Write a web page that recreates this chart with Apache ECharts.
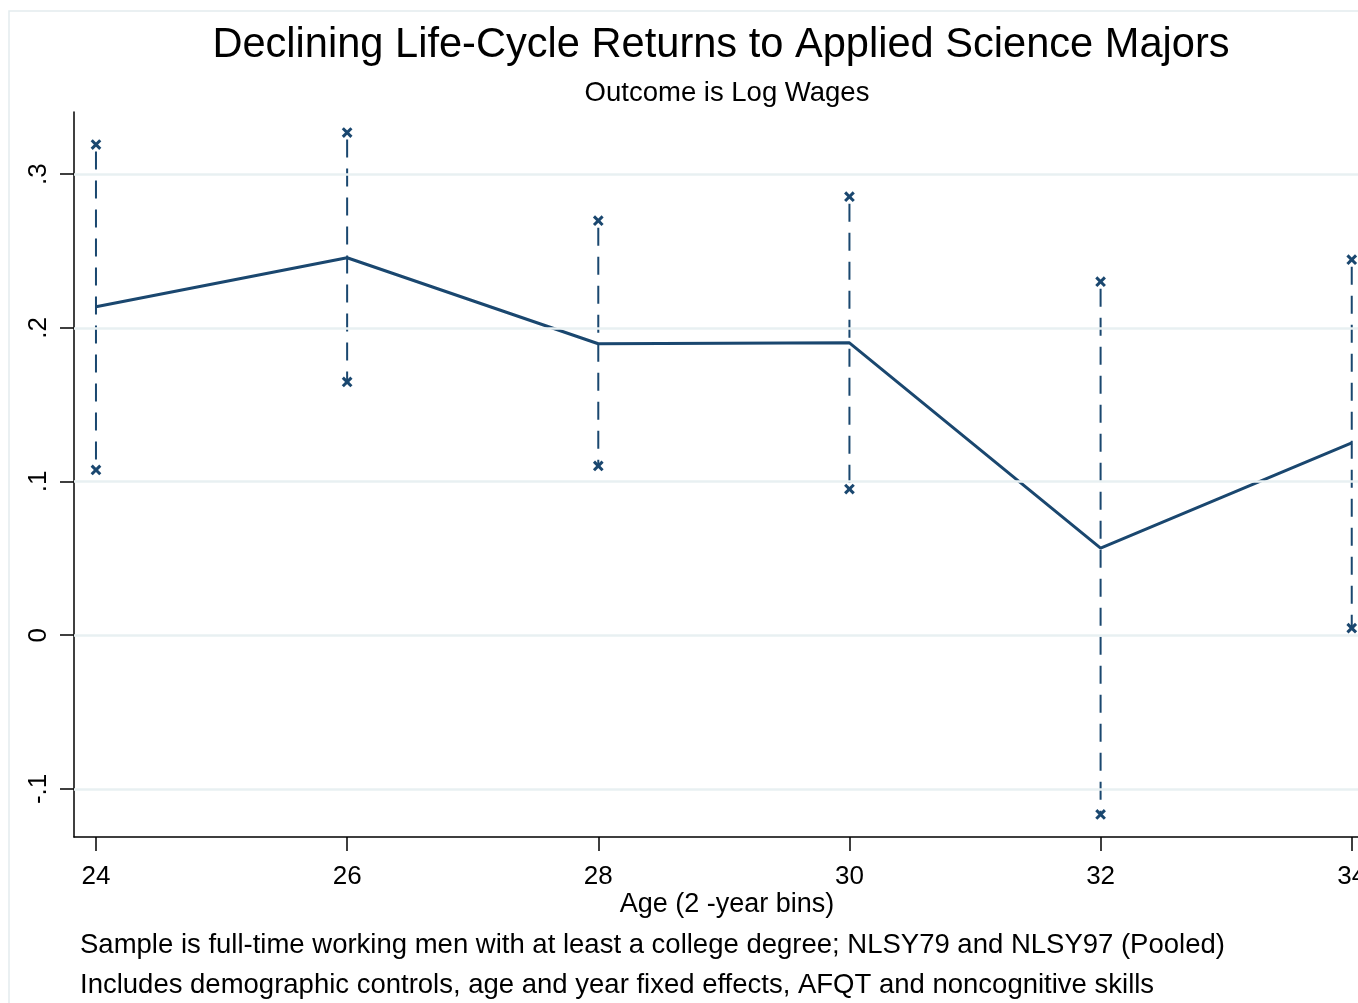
<!DOCTYPE html>
<html>
<head>
<meta charset="utf-8">
<script src="https://cdn.jsdelivr.net/npm/echarts@6/dist/echarts.min.js"></script>
<style>
html,body{margin:0;padding:0;background:#fff;}
#chart{width:1358px;height:1003px;}
</style>
</head>
<body>
<div id="chart"></div>
<script>
const ages = [24, 26, 28, 30, 32, 34];
const coef = [0.2137, 0.2456, 0.1896, 0.1902, 0.0567, 0.1251];
const upper = [0.3192, 0.3270, 0.2697, 0.2853, 0.2300, 0.2443];
const lower = [0.1075, 0.1648, 0.1101, 0.0951, -0.1166, 0.0046];
const xTicks = [24, 26, 28, 30, 32, 34];
const yTicks = [-0.1, 0, 0.1, 0.2, 0.3];
const yTickLabels = ['-.1', '0', '.1', '.2', '.3'];

const titleText = 'Declining Life-Cycle Returns to Applied Science Majors';
const subtitleText = 'Outcome is Log Wages';
const xName = 'Age (2 -year bins)';
const notes = [
  'Sample is full-time working men with at least a college degree; NLSY79 and NLSY97 (Pooled)',
  'Includes demographic controls, age and year fixed effects, AFQT and noncognitive skills'
];

const NAVY = '#1a476f';
const FONT = '"Liberation Sans", Arial, Helvetica, sans-serif';

const chart = echarts.init(document.getElementById('chart'), null, {renderer: 'canvas'});

const option = {
  backgroundColor: '#ffffff',
  animation: false,
  textStyle: {fontFamily: FONT},
  grid: {left: 74, top: 112, width: 1306, height: 725, containLabel: false, outerBoundsMode: 'none'},
  xAxis: {
    type: 'value',
    min: 23.825,
    max: 34.225,
    axisLine: {show: true, onZero: false, lineStyle: {color: '#000', width: 1.5}},
    axisTick: {show: true, length: 14, customValues: xTicks, lineStyle: {color: '#000', width: 1.5}},
    axisLabel: {customValues: xTicks, fontSize: 26, color: '#000', margin: 27, fontFamily: FONT},
    splitLine: {show: false}
  },
  yAxis: {
    type: 'value',
    min: -0.1313,
    max: 0.3404,
    axisLine: {show: true, onZero: false, lineStyle: {color: '#000', width: 1.5}},
    axisTick: {show: true, length: 14, customValues: yTicks, lineStyle: {color: '#000', width: 1.5}},
    axisLabel: {
      customValues: yTicks, rotate: 90, fontSize: 26, color: '#000', margin: 22, fontFamily: FONT,
      formatter: function (v) {
        const i = yTicks.findIndex(t => Math.abs(t - v) < 1e-9);
        return i >= 0 ? yTickLabels[i] : '';
      }
    },
    splitLine: {show: false}
  },
  graphic: [
    {type: 'rect', shape: {x: 9, y: 11, width: 1500, height: 1100}, style: {fill: 'none', stroke: '#e3ecee', lineWidth: 1.5}, z: -10, silent: true},
    {type: 'text', x: 721, y: 46, style: {text: titleText, fontSize: 41.6, fontFamily: FONT, fill: '#000', textAlign: 'center', textVerticalAlign: 'middle'}},
    {type: 'text', x: 727, y: 93, style: {text: subtitleText, fontSize: 27.5, fontFamily: FONT, fill: '#000', textAlign: 'center', textVerticalAlign: 'middle'}},
    {type: 'text', x: 727, y: 905, style: {text: xName, fontSize: 27, fontFamily: FONT, fill: '#000', textAlign: 'center', textVerticalAlign: 'middle'}},
    {type: 'text', x: 80, y: 945, style: {text: notes[0], fontSize: 27.5, fontFamily: FONT, fill: '#000', textAlign: 'left', textVerticalAlign: 'middle'}},
    {type: 'text', x: 80, y: 985, style: {text: notes[1], fontSize: 27.5, fontFamily: FONT, fill: '#000', textAlign: 'left', textVerticalAlign: 'middle'}}
  ],
  series: [
    {
      name: 'grid',
      type: 'line',
      data: [],
      z: 1,
      silent: true,
      markLine: {
        silent: true,
        symbol: ['none', 'none'],
        label: {show: false},
        lineStyle: {color: '#e8f0f2', width: 2.5, type: 'solid'},
        data: yTicks.map(v => ({yAxis: v}))
      }
    },
    {
      name: 'ci',
      type: 'custom',
      z: 2,
      data: ages.map((a, i) => [a, lower[i], upper[i]]),
      encode: {x: 0, y: [1, 2]},
      renderItem: function (params, api) {
        const x = api.value(0), lo = api.value(1), hi = api.value(2);
        const pLo = api.coord([x, lo]);
        const pHi = api.coord([x, hi]);
        const s = 4.3;
        const cross = p => [
          {type: 'line', shape: {x1: p[0] - s, y1: p[1] - s, x2: p[0] + s, y2: p[1] + s}, style: {stroke: NAVY, lineWidth: 3}},
          {type: 'line', shape: {x1: p[0] - s, y1: p[1] + s, x2: p[0] + s, y2: p[1] - s}, style: {stroke: NAVY, lineWidth: 3}}
        ];
        return {
          type: 'group',
          children: [
            {type: 'line', shape: {x1: pHi[0], y1: pHi[1] + 7, x2: pLo[0], y2: pLo[1]}, style: {stroke: NAVY, lineWidth: 2, lineDash: [18, 11]}}
          ].concat(cross(pHi), cross(pLo))
        };
      }
    },
    {
      name: 'coef',
      type: 'line',
      z: 3,
      data: ages.map((a, i) => [a, coef[i]]),
      symbol: 'none',
      lineStyle: {color: NAVY, width: 3},
      itemStyle: {color: NAVY}
    }
  ]
};
chart.setOption(option);
</script>
</body>
</html>
